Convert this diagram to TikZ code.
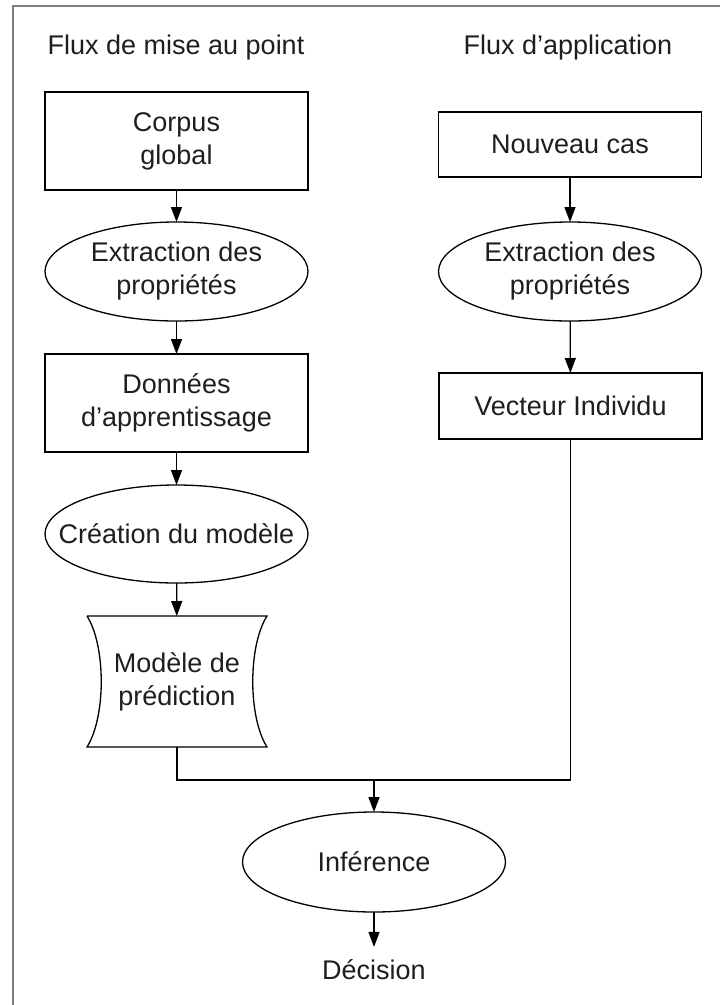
\documentclass[tikz,border=0pt]{standalone}
\usepackage{fontspec}
\setmainfont{Liberation Sans}
\usetikzlibrary{shapes.geometric,arrows.meta}
\definecolor{ink}{HTML}{1E1E1E}
\definecolor{frame}{HTML}{808080}
\begin{document}
\begin{tikzpicture}[x=1pt,y=-1pt,
  every node/.style={inner sep=0pt,outer sep=0pt,text=ink,align=center,
    font=\fontsize{27}{33}\selectfont},
  box/.style={draw=black,line width=1.3pt,rectangle,minimum width=263pt},
  oval/.style={draw=black,line width=1.3pt,ellipse,minimum width=263pt,minimum height=99pt},
  flow/.style={draw=black,line width=1.3pt},
  arr/.style={flow,-{Triangle[length=15pt,width=11pt]}}]
\useasboundingbox (0,0) rectangle (720,1005);
% frame edges
\draw[frame,line width=2.5pt] (13,1005) -- (13,6) -- (720,6);
% column titles
\node (t1) at (176,48) {Flux de mise au point};
\node (t2) at (568,48) {Flux d’application};
% training flow
\node[box,minimum height=98pt] (corpus) at (176.5,141) {Corpus\\global};
\node[oval] (ext1) at (176.5,271.5) {Extraction des\\propriétés};
\node[box,minimum height=98pt] (data) at (176.5,403) {Données\\d’apprentissage};
\node[oval,minimum height=98pt,inner xsep=-26pt] (crea) at (176.5,534) {Création du modèle};
\node[minimum width=180pt,minimum height=131pt] (mod) at (177,681.5) {Modèle de\\prédiction};
\draw[flow] (mod.north west) -- (mod.north east)
  .. controls ([xshift=-19pt,yshift=-30pt]mod.north east) and ([xshift=-19pt,yshift=30pt]mod.south east) .. (mod.south east)
  -- (mod.south west)
  .. controls ([xshift=19pt,yshift=30pt]mod.south west) and ([xshift=19pt,yshift=-30pt]mod.north west) .. (mod.north west);
% application flow
\node[box,minimum height=65pt] (new) at (570,144.5) {Nouveau cas};
\node[oval] (ext2) at (570,271.5) {Extraction des\\propriétés};
\node[box,minimum height=66pt] (vec) at (570.5,406) {Vecteur Individu};
% inference
\node[oval,minimum height=100pt] (inf) at (374,862) {Inférence};
\node (dec) at (374,970) {Décision};
\coordinate (join) at (374,780);
% connectors
\draw[arr] (corpus) -- (ext1);
\draw[arr] (ext1) -- (data);
\draw[arr] (data) -- (crea);
\draw[arr] (crea) -- (mod);
\draw[arr] (new) -- (ext2);
\draw[arr] (ext2) -- (vec);
\draw[flow] (mod.south) |- (join) -| (vec.south);
\draw[arr] (join) -- (inf.north);
\draw[arr] (inf.south) -- ([yshift=13pt]dec.north);
\end{tikzpicture}
\end{document}
